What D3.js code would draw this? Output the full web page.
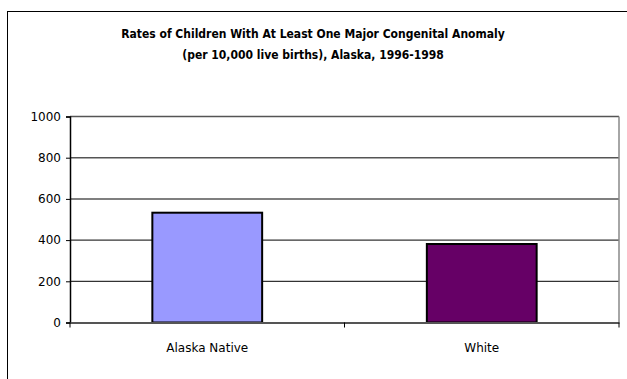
<!DOCTYPE html>
<html><head><meta charset="utf-8">
<script src="https://cdn.jsdelivr.net/npm/d3@7"></script>
<style>body{margin:0;background:#fff}svg{display:block}</style>
</head><body>
<script>
const categories = ["Alaska Native", "White"];
const values = [533, 381];
const colors = ["#9999FF", "#660066"];
const yTicks = [0, 200, 400, 600, 800, 1000];
const titleLines = ["Rates of Children With At Least One Major Congenital Anomaly", "(per 10,000 live births), Alaska, 1996-1998"];

(function () {
const W = 627, H = 379;
const svg = d3.select("body").append("svg").attr("width", W).attr("height", H);
svg.append("rect").attr("width", W).attr("height", H).attr("fill", "#fff");
// outer chart border (extends beyond canvas)
svg.append("rect").attr("x", 7.5).attr("y", 11.5).attr("width", 700).attr("height", 500)
  .attr("fill", "none").attr("stroke", "#000").attr("stroke-width", 1);

const titleFont = "Tahoma, 'DejaVu Sans Condensed', 'Liberation Sans', sans-serif";
const font = "'DejaVu Sans', Verdana, sans-serif";
svg.selectAll("text.title").data(titleLines).join("text")
  .attr("x", 313).attr("y", (d, i) => 38 + i * 21)
  .attr("text-anchor", "middle").attr("font-family", titleFont)
  .attr("font-weight", "bold").attr("font-size", 12).text(d => d);

const pl = 70, pr = 619, pt = 116.5, pb = 322.5;
const x = d3.scaleBand().domain(categories).range([pl, pr]).padding(0);
const y = d3.scaleLinear().domain([0, 1000]).range([pb, pt]);

// gridlines
svg.append("g").selectAll("line").data(yTicks.filter(d => d > 0)).join("line")
  .attr("x1", pl).attr("x2", pr).attr("y1", d => y(d)).attr("y2", d => y(d))
  .attr("stroke", d => d >= 600 ? "#555" : "#000").attr("stroke-width", d => d >= 600 ? 1.5 : 1);
// right border of plot
svg.append("line").attr("x1", pr).attr("x2", pr).attr("y1", pt).attr("y2", pb)
  .attr("stroke", "#888").attr("stroke-width", 1.5);

// bars
const bw = x.bandwidth() * 0.4;
svg.append("g").selectAll("rect").data(categories).join("rect")
  .attr("x", d => x(d) + (x.bandwidth() - bw) / 2)
  .attr("y", (d, i) => y(values[i]))
  .attr("width", bw)
  .attr("height", (d, i) => y(0) - y(values[i]))
  .attr("fill", (d, i) => colors[i])
  .attr("stroke", "#000").attr("stroke-width", 2);

// y axis
const yAxis = svg.append("g").attr("transform", `translate(${pl},0)`)
  .call(d3.axisLeft(y).tickValues(yTicks).tickSize(4).tickPadding(5).tickFormat(d3.format("d")));
yAxis.select(".domain").attr("stroke", "#000").attr("stroke-width", 1.5);
yAxis.selectAll(".tick line").attr("stroke", "#000");
yAxis.selectAll("text").attr("font-family", font).attr("font-size", 12).attr("fill", "#000");

// x axis
const xAxis = svg.append("g").attr("transform", `translate(0,${pb})`)
  .call(d3.axisBottom(x).tickSize(0).tickPadding(21));
xAxis.select(".domain").attr("stroke", "#555").attr("stroke-width", 2);
xAxis.selectAll("text").attr("font-family", font).attr("font-size", 12).attr("fill", "#000");
// category boundary ticks
svg.append("g").selectAll("line").data([pl, x(categories[1]), pr]).join("line")
  .attr("x1", d => d).attr("x2", d => d).attr("y1", pb).attr("y2", pb + 5)
  .attr("stroke", "#000");
})();
</script>
</body></html>
